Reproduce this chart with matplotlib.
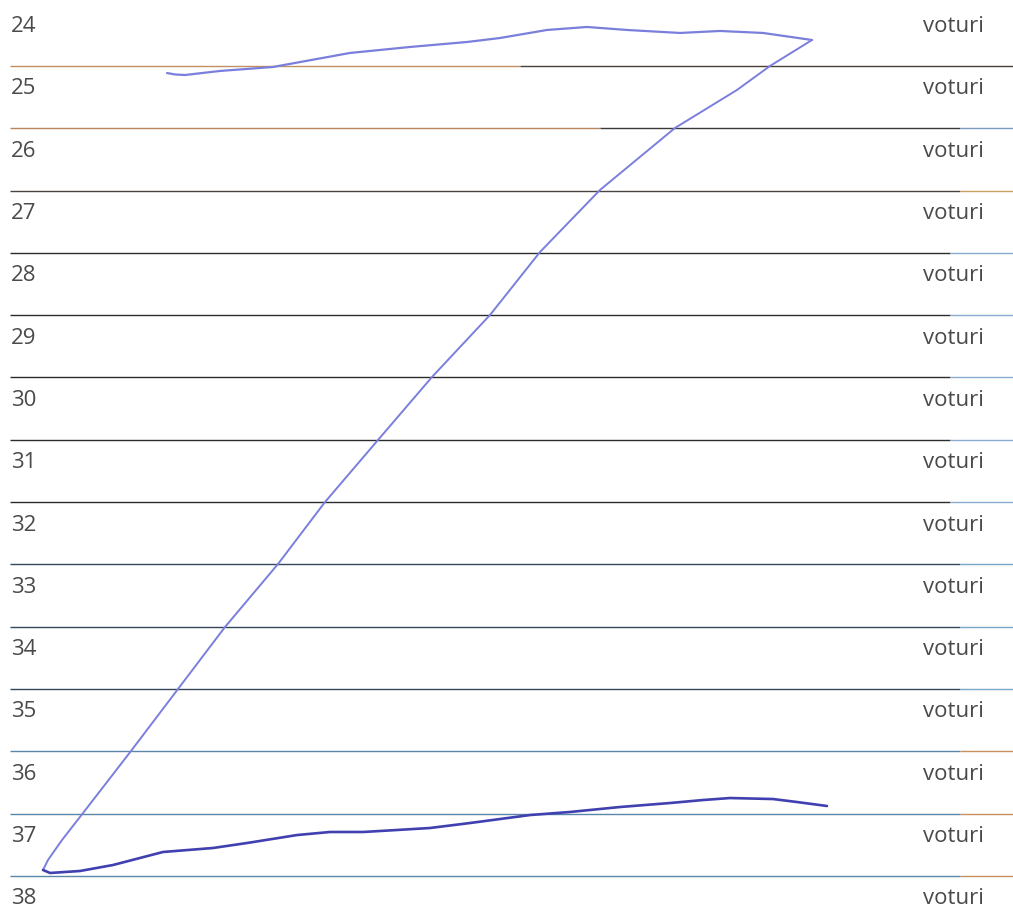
import matplotlib
matplotlib.use("Agg")
import matplotlib.pyplot as plt
import numpy as np

# Row labels and right-hand labels
rows = list(range(24, 39))
right_label = "voturi"

# Hand-drawn curve (x across page, y in row units)
top_x = [167, 175, 185, 220, 273, 350, 410, 467, 500, 547, 587, 627, 680, 720, 763, 812]
top_y = [24.787, 24.810, 24.819, 24.754, 24.690, 24.465, 24.369, 24.289, 24.225, 24.096,
         24.048, 24.096, 24.144, 24.112, 24.144, 24.257]
diag_x = [812, 770, 737, 675, 600, 540, 490, 432, 378, 325, 278, 225, 178, 131, 83, 62, 48, 43]
diag_y = [24.257, 24.674, 25.059, 25.669, 26.664, 27.660, 28.671, 29.666, 30.677,
          31.673, 32.668, 33.679, 34.674, 35.669, 36.665, 37.098, 37.418, 37.579]
bot_x = [43, 50, 80, 113, 163, 213, 247, 297, 330, 363, 397, 430, 470, 530, 570,
         620, 670, 703, 730, 773, 797, 827]
bot_y = [37.579, 37.627, 37.595, 37.499, 37.290, 37.226, 37.146, 37.018, 36.969,
         36.969, 36.937, 36.905, 36.825, 36.697, 36.648, 36.568, 36.504, 36.456,
         36.424, 36.440, 36.488, 36.552]

fig = plt.figure(figsize=(10.13, 9.07), dpi=100)
ax = fig.add_axes([0, 0, 1, 1])
ax.set_xlim(0, 1013)
ax.set_ylim(38.173, 23.615)
ax.axis("off")

# ruled lines between rows, with a little colour variation like the scan
line_styles = {
    24: [("#c09060", 10, 520), ("#4a3f38", 520, 1013)],
    25: [("#b8845c", 10, 600), ("#3a3a3a", 600, 960), ("#7a9cc0", 960, 1013)],
    26: [("#4a4540", 10, 960), ("#c8a060", 960, 1013)],
}
for k in rows[:-1]:
    y = k + 0.674
    segs = line_styles.get(k)
    if segs is None:
        if k >= 35:
            segs = [("#5a86aa", 10, 960), ("#c89060", 960, 1013)]
        elif k >= 32:
            segs = [("#34465a", 10, 960), ("#7aa6c8", 960, 1013)]
        else:
            segs = [("#2c2c2c", 10, 950), ("#88acd0", 950, 1013)]
    for c, x0, x1 in segs:
        ax.plot([x0, x1], [y, y], color=c, lw=1.0, solid_capstyle="butt")

# labels
for k in rows:
    ax.text(11, k + 0.13, str(k), fontsize=16, family=["Open Sans", "DejaVu Sans"],
            color="#4a4a4a", ha="left", va="baseline")
    ax.text(984, k + 0.13, right_label, fontsize=16, family=["Open Sans", "DejaVu Sans"],
            color="#4a4a4a", ha="right", va="baseline")

# pen stroke
ax.plot(top_x, top_y, color="#7a7fdc", lw=1.6, solid_joinstyle="round", solid_capstyle="round")
ax.plot(diag_x, diag_y, color="#7a7fdc", lw=1.4, solid_joinstyle="round", solid_capstyle="round")
ax.plot(bot_x, bot_y, color="#4040b0", lw=1.9, solid_joinstyle="round", solid_capstyle="round")

fig.savefig("out.png", dpi=100, facecolor="white")
